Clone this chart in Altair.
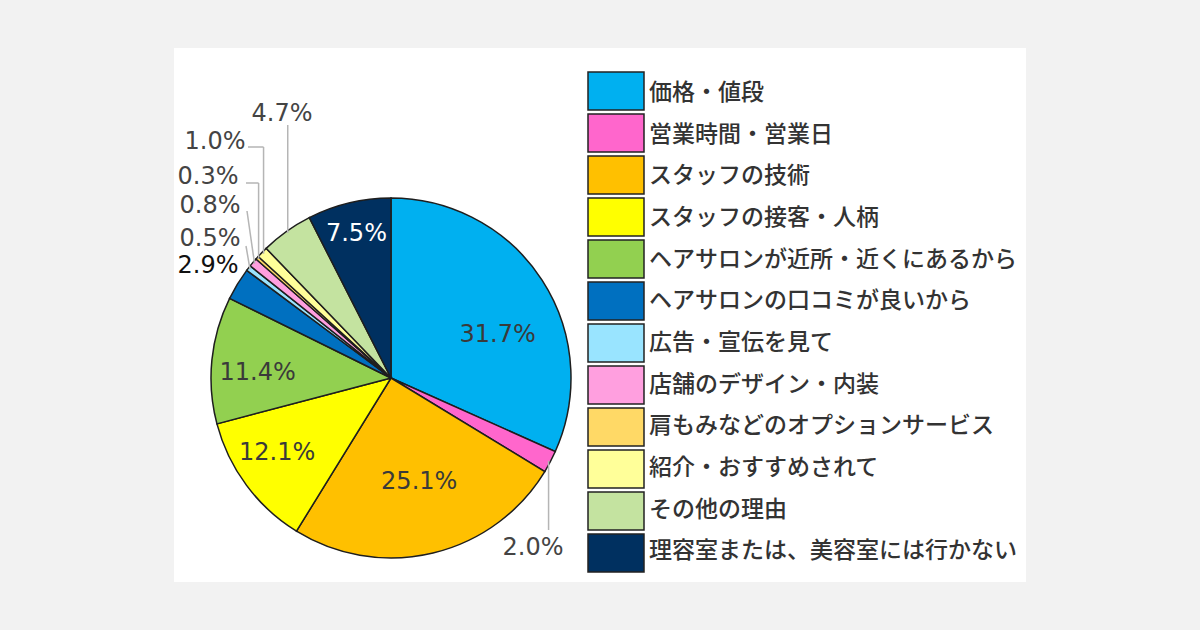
import math
import altair as alt
import pandas as pd

# ---------------- data ----------------
categories = [
    "価格・値段",
    "営業時間・営業日",
    "スタッフの技術",
    "スタッフの接客・人柄",
    "ヘアサロンが近所・近くにあるから",
    "ヘアサロンの口コミが良いから",
    "広告・宣伝を見て",
    "店舗のデザイン・内装",
    "肩もみなどのオプションサービス",
    "紹介・おすすめされて",
    "その他の理由",
    "理容室または、美容室には行かない",
]
values = [31.7, 2.0, 25.1, 12.1, 11.4, 2.9, 0.5, 0.8, 0.3, 1.0, 4.7, 7.5]
colors = [
    "#00b0f0", "#ff66cc", "#ffc000", "#ffff00", "#92d050", "#0070c0",
    "#99e4ff", "#ff9fdf", "#ffd966", "#ffff99", "#c4e3a0", "#003060",
]

df = pd.DataFrame({"idx": list(range(len(categories))), "category": categories, "value": values})

# ---------------- layout ----------------
PX, PY = 174, 48          # white panel origin
W, H = 852, 534           # panel size
CX, CY = 391 - PX, 378 - PY
R = 180

# inside labels: category -> (radius, dx, dy, colour)
inside = {
    "価格・値段": (120, 6, 22, "#3a3a3a"),
    "スタッフの技術": (108, 3, -1, "#3a3a3a"),
    "スタッフの接客・人柄": (138, -3, -7, "#3a3a3a"),
    "ヘアサロンが近所・近くにあるから": (134, 0, 8, "#3a3a3a"),
    "理容室または、美容室には行かない": (148, 0, 0, "#ffffff"),
}
# outside labels: category -> (label centre x, y, leader start points (abs), colour)
outside = {
    "その他の理由": (282, 114, [("edgex", 125)], "#444444"),
    "紹介・おすすめされて": (215, 142, [(248, 147), ("edgex", 147)], "#444444"),
    "肩もみなどのオプションサービス": (208, 177, [(246, 183), ("edgex", 183)], "#444444"),
    "店舗のデザイン・内装": (210, 206, [(247, 211)], "#444444"),
    "広告・宣伝を見て": (210, 239, [(246, 246)], "#444444"),
    "ヘアサロンの口コミが良いから": (208, 266, [], "#111111"),
    "営業時間・営業日": (533, 548, [("edgex", 530)], "#444444"),
}

total = sum(values)
cum = 0.0
mids = {}
for c, v in zip(categories, values):
    mids[c] = (cum + v / 2) / total * 2 * math.pi
    cum += v

ann_rows, seg_rows = [], []
for c, (lx, ly, pts, col) in outside.items():
    v = values[categories.index(c)]
    ann_rows.append({"label": f"{v:.1f}%", "px": lx - PX, "py": ly - PY, "col": col})
    a = mids[c]
    ex = CX + (R - 2) * math.sin(a)
    ey = CY - (R - 2) * math.cos(a)
    path = []
    for (x, y) in pts:
        xx = ex if x == "edgex" else x - PX
        path.append((xx, y - PY))
    if path:
        path.append((ex, ey))
        for (x1, y1), (x2, y2) in zip(path[:-1], path[1:]):
            seg_rows.append({"x1": x1, "y1": y1, "x2": x2, "y2": y2})
ann_df = pd.DataFrame(ann_rows)
seg_df = pd.DataFrame(seg_rows)

color_scale = alt.Scale(domain=categories, range=colors)
base = alt.Chart(df)

pie = base.mark_arc(outerRadius=R, stroke="#1e1e1e", strokeWidth=1.5).encode(
    theta=alt.Theta("value:Q", stack=True),
    color=alt.Color("category:N", scale=color_scale, legend=None),
    order=alt.Order("idx:Q"),
    x=alt.value(CX),
    y=alt.value(CY),
)

layers = [pie]
for c, (r, dx, dy, col) in inside.items():
    safe = c.replace("'", "\\'")
    t = base.transform_calculate(
        lbl=f"datum.category === '{safe}' ? format(datum.value, '.1f') + '%' : ''"
    ).mark_text(
        font="DejaVu Sans", fontSize=24, color=col, dx=dx, dy=dy,
        align="center", baseline="middle",
    ).encode(
        theta=alt.Theta("value:Q", stack=True),
        order=alt.Order("idx:Q"),
        radius=alt.value(r),
        text="lbl:N",
        x=alt.value(CX),
        y=alt.value(CY),
    )
    layers.append(t)

leaders = alt.Chart(seg_df).mark_rule(color="#b5b5b5", strokeWidth=1.5).encode(
    x=alt.X("x1:Q", scale=None), y=alt.Y("y1:Q", scale=None),
    x2="x2:Q", y2="y2:Q",
)
out_text = alt.Chart(ann_df).mark_text(
    font="DejaVu Sans", fontSize=24, align="center", baseline="middle"
).encode(
    x=alt.X("px:Q", scale=None), y=alt.Y("py:Q", scale=None),
    text="label:N", color=alt.Color("col:N", scale=None),
)

# legend (drawn as marks on a band scale)
box_top, step, box_h = 72 - PY, 42, 38
ylegend = alt.Scale(domain=categories, range=[box_top, box_top + step * len(categories) - (step - box_h)],
                    paddingInner=(step - box_h) / step, paddingOuter=0)
leg_box = base.mark_rect(stroke="#222222", strokeWidth=1.5).encode(
    y=alt.Y("category:N", scale=ylegend, axis=None),
    x=alt.value(588 - PX), x2=alt.value(644 - PX),
    color=alt.Color("category:N", scale=color_scale, legend=None),
)
leg_text = base.mark_text(
    font="Noto Sans CJK JP", fontSize=23, fontWeight=500, color="#333333",
    align="left", baseline="middle"
).encode(
    y=alt.Y("category:N", scale=ylegend, axis=None, bandPosition=0.5),
    x=alt.value(649 - PX),
    text="category:N",
)

chart = alt.layer(*layers, leaders, out_text, leg_box, leg_text).resolve_scale(
    x="independent", y="independent"
).properties(
    width=W, height=H,
    autosize="none",
    padding={"left": PX, "top": PY, "right": 1200 - PX - W, "bottom": 630 - PY - H},
    background="#f2f2f2",
).configure_view(fill="white", strokeWidth=0)

chart.save("out.html", embed_options={"renderer": "svg", "actions": False})
